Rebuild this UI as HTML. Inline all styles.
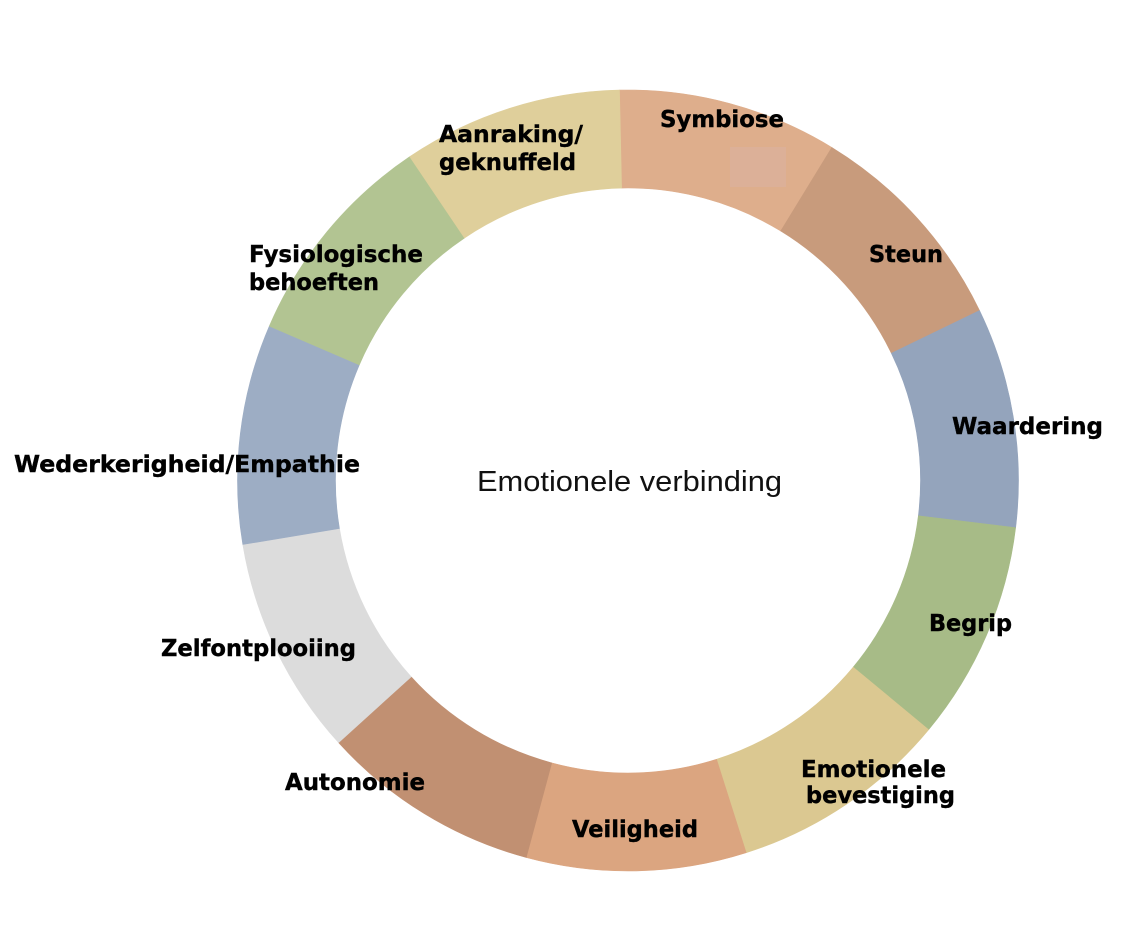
<!DOCTYPE html>
<html>
<head>
<meta charset="utf-8">
<style>
  html, body { margin:0; padding:0; background:#ffffff; }
  body { width:1148px; height:932px; overflow:hidden; }
  svg { display:block; }
  .lbl { font-family: "DejaVu Sans", "Liberation Sans", sans-serif; font-weight: bold; font-size: 23px; fill: #000; stroke:#000; stroke-width:0.4px; }
  .ctr { font-family: "Liberation Sans", sans-serif; font-size: 29px; fill: #111; }
</style>
</head>
<body>
<svg width="1148" height="932" viewBox="0 0 1148 932" xmlns="http://www.w3.org/2000/svg">
  <rect x="0" y="0" width="1148" height="932" fill="#ffffff"/>
  <g stroke-width="0.6" stroke-linejoin="round">
    <path d="M619.48,90.09 A390.5,390.5 0 0 1 831.90,147.46 L780.73,231.04 A292.5,292.5 0 0 0 621.62,188.07 Z" fill="#DEAE8C" stroke="#DEAE8C"/>
    <path d="M831.90,147.46 A390.5,390.5 0 0 1 979.59,310.57 L891.36,353.22 A292.5,292.5 0 0 0 780.73,231.04 Z" fill="#C89B7C" stroke="#C89B7C"/>
    <path d="M979.59,310.57 A390.5,390.5 0 0 1 1015.65,527.63 L918.36,515.80 A292.5,292.5 0 0 0 891.36,353.22 Z" fill="#94A4BC" stroke="#94A4BC"/>
    <path d="M1015.65,527.63 A390.5,390.5 0 0 1 928.63,729.73 L853.19,667.18 A292.5,292.5 0 0 0 918.36,515.80 Z" fill="#A7BB87" stroke="#A7BB87"/>
    <path d="M928.63,729.73 A390.5,390.5 0 0 1 746.17,852.69 L716.51,759.29 A292.5,292.5 0 0 0 853.19,667.18 Z" fill="#DBC891" stroke="#DBC891"/>
    <path d="M746.17,852.69 A390.5,390.5 0 0 1 526.18,857.49 L551.73,762.88 A292.5,292.5 0 0 0 716.51,759.29 Z" fill="#DBA580" stroke="#DBA580"/>
    <path d="M526.18,857.49 A390.5,390.5 0 0 1 338.53,742.60 L411.18,676.82 A292.5,292.5 0 0 0 551.73,762.88 Z" fill="#C19072" stroke="#C19072"/>
    <path d="M338.53,742.60 A390.5,390.5 0 0 1 242.78,544.50 L339.45,528.44 A292.5,292.5 0 0 0 411.18,676.82 Z" fill="#DCDCDC" stroke="#DCDCDC"/>
    <path d="M242.78,544.50 A390.5,390.5 0 0 1 269.33,326.07 L359.34,364.83 A292.5,292.5 0 0 0 339.45,528.44 Z" fill="#9DADC4" stroke="#9DADC4"/>
    <path d="M269.33,326.07 A390.5,390.5 0 0 1 409.76,156.67 L464.53,237.94 A292.5,292.5 0 0 0 359.34,364.83 Z" fill="#B2C492" stroke="#B2C492"/>
    <path d="M409.76,156.67 A390.5,390.5 0 0 1 619.48,90.09 L621.62,188.07 A292.5,292.5 0 0 0 464.53,237.94 Z" fill="#DFCF9B" stroke="#DFCF9B"/>
  </g>

  <rect x="730" y="147" width="56" height="40" fill="#DCB098"/>

  <text class="lbl" x="439" y="142" textLength="144" lengthAdjust="spacingAndGlyphs">Aanraking/</text>
  <text class="lbl" x="439" y="170" textLength="137" lengthAdjust="spacingAndGlyphs">geknuffeld</text>
  <text class="lbl" x="660" y="127" textLength="124" lengthAdjust="spacingAndGlyphs">Symbiose</text>
  <text class="lbl" x="869" y="262" textLength="74" lengthAdjust="spacingAndGlyphs">Steun</text>
  <text class="lbl" x="952" y="434" textLength="151" lengthAdjust="spacingAndGlyphs">Waardering</text>
  <text class="lbl" x="929" y="631" textLength="83" lengthAdjust="spacingAndGlyphs">Begrip</text>
  <text class="lbl" x="801" y="777" textLength="145" lengthAdjust="spacingAndGlyphs">Emotionele</text>
  <text class="lbl" x="806" y="803" textLength="149" lengthAdjust="spacingAndGlyphs">bevestiging</text>
  <text class="lbl" x="572" y="837" textLength="126" lengthAdjust="spacingAndGlyphs">Veiligheid</text>
  <text class="lbl" x="285" y="790" textLength="140" lengthAdjust="spacingAndGlyphs">Autonomie</text>
  <text class="lbl" x="161" y="656" textLength="195" lengthAdjust="spacingAndGlyphs">Zelfontplooiing</text>
  <text class="lbl" x="14" y="472" textLength="346" lengthAdjust="spacingAndGlyphs">Wederkerigheid/Empathie</text>
  <text class="lbl" x="249" y="262" textLength="174" lengthAdjust="spacingAndGlyphs">Fysiologische</text>
  <text class="lbl" x="249" y="290" textLength="130" lengthAdjust="spacingAndGlyphs">behoeften</text>

  <text class="ctr" x="477" y="491" textLength="305" lengthAdjust="spacingAndGlyphs">Emotionele verbinding</text>
</svg>
</body>
</html>
